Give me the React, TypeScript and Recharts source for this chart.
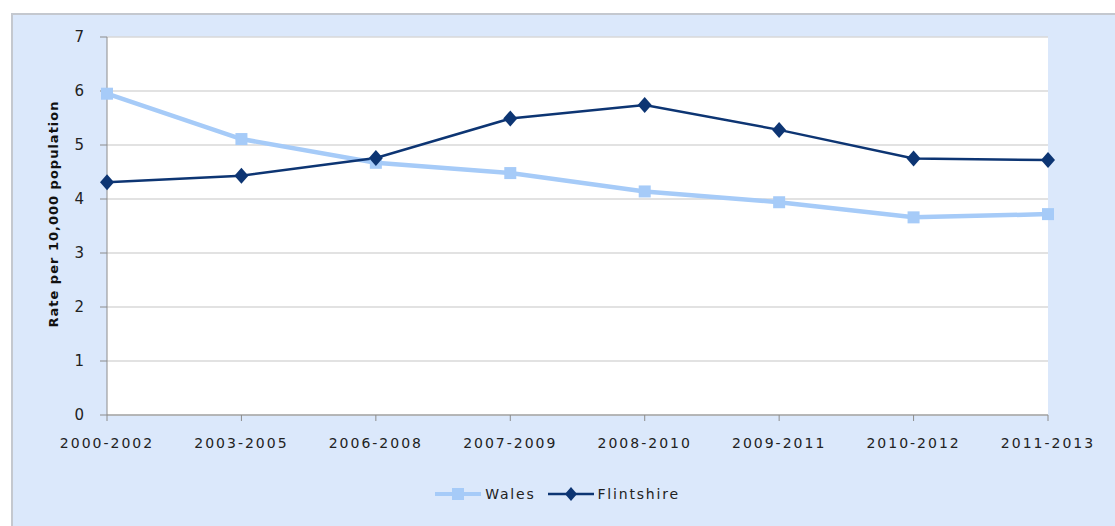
import {
  CartesianGrid,
  Legend,
  Line,
  LineChart,
  XAxis,
  YAxis,
} from "recharts";

const periods = [
  "2000-2002",
  "2003-2005",
  "2006-2008",
  "2007-2009",
  "2008-2010",
  "2009-2011",
  "2010-2012",
  "2011-2013",
];
const wales = [5.95, 5.11, 4.67, 4.48, 4.14, 3.94, 3.66, 3.72];
const flintshire = [4.31, 4.43, 4.76, 5.49, 5.74, 5.28, 4.75, 4.72];
const yTicks = [0, 1, 2, 3, 4, 5, 6, 7];

const data = periods.map((p, i) => ({
  period: p,
  Wales: wales[i],
  Flintshire: flintshire[i],
}));

const WALES = "#a6cbf8";
const FLINT = "#0d3573";
const font = "'DejaVu Sans', Verdana, sans-serif";

const Square = (props: any) => {
  const { cx, cy } = props;
  if (cx == null || cy == null) return null;
  return <rect x={cx - 6} y={cy - 6} width={12} height={12} fill={WALES} />;
};

const Diamond = (props: any) => {
  const { cx, cy } = props;
  if (cx == null || cy == null) return null;
  return (
    <polygon
      points={`${cx},${cy - 8} ${cx + 7},${cy} ${cx},${cy + 8} ${cx - 7},${cy}`}
      fill={FLINT}
    />
  );
};

function LegendBox() {
  const item = (name: string, color: string, w: number, marker: JSX.Element) => (
    <span style={{ display: "inline-flex", alignItems: "center", margin: "0 6px" }}>
      <svg width={46} height={14}>
        <line x1={0} y1={7} x2={46} y2={7} stroke={color} strokeWidth={w} />
        {marker}
      </svg>
      <span style={{ marginLeft: 4 }}>{name}</span>
    </span>
  );
  return (
    <div
      style={{
        fontFamily: font,
        fontSize: 14,
        letterSpacing: 1.8,
        color: "#222",
        display: "flex",
        justifyContent: "center",
        lineHeight: "16px",
      }}
    >
      {item("Wales", WALES, 4, <rect x={17} y={1} width={12} height={12} fill={WALES} />)}
      {item(
        "Flintshire",
        FLINT,
        2.5,
        <polygon points="23,0 29,7 23,14 17,7" fill={FLINT} />
      )}
    </div>
  );
}

export default function App() {
  return (
    <div
      style={{
        position: "absolute",
        left: 0,
        top: 0,
        width: 1115,
        height: 526,
        background: "#fff",
        overflow: "hidden",
      }}
    >
      <div
        style={{
          position: "absolute",
          left: 11,
          top: 13,
          width: 1120,
          height: 530,
          background: "#dbe8fb",
          borderLeft: "2px solid #c4c8cf",
          borderTop: "2px solid #c4c8cf",
        }}
      />
      <div
        style={{
          position: "absolute",
          left: 107,
          top: 37,
          width: 941,
          height: 378,
          background: "#fff",
        }}
      />
      <div style={{ position: "absolute", left: 0, top: 0 }}>
        <LineChart
          width={1115}
          height={526}
          data={data}
          margin={{ top: 37, right: 67, bottom: 45, left: 35 }}
        >
          <CartesianGrid vertical={false} stroke="#d9d9d9" strokeWidth={1.5} />
          <XAxis
            dataKey="period"
            padding={{ left: 0, right: 0 }}
            interval={0}
            height={50}
            stroke="#8c8c8c"
            tickSize={6}
            tickMargin={17}
            tick={{ fill: "#222", fontSize: 14, fontFamily: font, letterSpacing: 2 }}
          />
          <YAxis
            width={72}
            domain={[0, 7]}
            ticks={yTicks}
            stroke="#8c8c8c"
            tickSize={7}
            tickMargin={16}
            tick={{ fill: "#222", fontSize: 15, fontFamily: font }}
            label={{
              value: "Rate per 10,000 population",
              angle: -90,
              position: "insideLeft",
              offset: 18,
              dy: -12,
              style: {
                textAnchor: "middle",
                fontFamily: font,
                fontWeight: "bold",
                fontSize: 13,
                letterSpacing: 1,
                fill: "#111",
              },
            }}
          />
          <Legend
            verticalAlign="bottom"
            content={() => <LegendBox />}
            wrapperStyle={{ left: 0, width: 1115, top: 486 }}
          />
          <Line
            dataKey="Wales"
            type="linear"
            stroke={WALES}
            strokeWidth={4.5}
            dot={<Square />}
            activeDot={false}
            isAnimationActive={false}
          />
          <Line
            dataKey="Flintshire"
            type="linear"
            stroke={FLINT}
            strokeWidth={2.5}
            dot={<Diamond />}
            activeDot={false}
            isAnimationActive={false}
          />
        </LineChart>
      </div>
    </div>
  );
}
